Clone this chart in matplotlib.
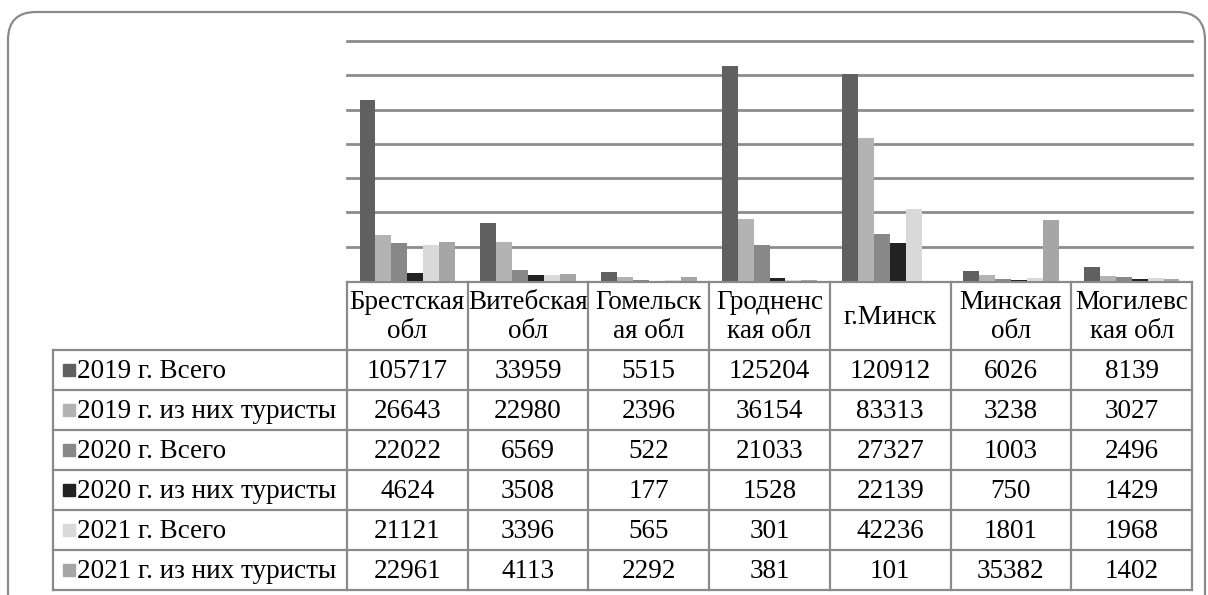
import numpy as np
import matplotlib.pyplot as plt
from matplotlib.patches import FancyBboxPatch, Rectangle

plt.rcParams['font.family'] = 'serif'
plt.rcParams['font.serif'] = ['Liberation Serif', 'Times New Roman', 'DejaVu Serif']

# Data
regions = ['Брестская\nобл', 'Витебская\nобл', 'Гомельск\nая обл', 'Гродненс\nкая обл',
           'г.Минск', 'Минская\nобл', 'Могилевс\nкая обл']
series_names = ['2019 г. Всего', '2019 г. из них туристы', '2020 г. Всего',
                '2020 г. из них туристы', '2021 г. Всего', '2021 г. из них туристы']
total_2019 = [105717, 33959, 5515, 125204, 120912, 6026, 8139]
tourists_2019 = [26643, 22980, 2396, 36154, 83313, 3238, 3027]
total_2020 = [22022, 6569, 522, 21033, 27327, 1003, 2496]
tourists_2020 = [4624, 3508, 177, 1528, 22139, 750, 1429]
total_2021 = [21121, 3396, 565, 301, 42236, 1801, 1968]
tourists_2021 = [22961, 4113, 2292, 381, 101, 35382, 1402]
series = [total_2019, tourists_2019, total_2020, tourists_2020, total_2021, tourists_2021]
colors = ['#606060', '#b3b3b3', '#888888', '#222222', '#d9d9d9', '#a6a6a6']

W, H = 1208, 595
fig = plt.figure(figsize=(W / 100, H / 100), dpi=100)

# background axes in pixel coords for frame and table
bg = fig.add_axes([0, 0, 1, 1])
bg.set_xlim(0, W)
bg.set_ylim(H, 0)
bg.axis('off')

frame = FancyBboxPatch((8, 12), 1197, 610, boxstyle='round,pad=0,rounding_size=28',
                       fc='white', ec='#8a8a8a', lw=1.6)
bg.add_patch(frame)

# plot area
px_left, px_right, px_top, px_base = 347, 1192, 41, 281
ax = fig.add_axes([px_left / W, (H - px_base) / H, (px_right - px_left) / W,
                   (px_base - px_top) / H])
ax.set_facecolor('none')
n = len(regions)
x = np.arange(n)
bw = 0.132
for i, (vals, c) in enumerate(zip(series, colors)):
    ax.bar(x + (i - 2.5) * bw, vals, bw, color=c, zorder=2)
ax.set_xlim(-0.5, n - 0.5)
ax.set_ylim(0, 140000)
ax.set_yticks(np.arange(20000, 140001, 20000))
ax.grid(axis='y', color='#8c8c8c', lw=2, zorder=0)
for gl in ax.get_ygridlines():
    gl.set_clip_on(False)
ax.tick_params(left=False, bottom=False, labelleft=False, labelbottom=False)
for s in ax.spines.values():
    s.set_visible(False)

# table under the chart
col_w = (px_right - px_left) / n
head_top, head_bot = 282, 350
row_h = 40
tab_left = 53
line_kw = dict(color='#8a8a8a', lw=1.6)
fs = 19.5

bg.plot([px_left, px_right], [head_top, head_top], **line_kw)
bottom = head_bot + row_h * len(series)
for j in range(n + 1):
    xx = px_left + j * col_w
    bg.plot([xx, xx], [head_top, bottom], **line_kw)
bg.plot([tab_left, tab_left], [head_bot, bottom], **line_kw)
for r in range(len(series) + 1):
    yy = head_bot + r * row_h
    bg.plot([tab_left, px_right], [yy, yy], **line_kw)

for j, name in enumerate(regions):
    bg.text(px_left + (j + 0.5) * col_w, (head_top + head_bot) / 2 + 1, name,
            ha='center', va='center', fontsize=fs, linespacing=1.2)

for r, (sname, vals, c) in enumerate(zip(series_names, series, colors)):
    yc = head_bot + (r + 0.5) * row_h
    bg.add_patch(Rectangle((63, yc - 6), 12, 12, color=c))
    bg.text(77, yc + 1, sname, ha='left', va='center', fontsize=fs)
    for j, v in enumerate(vals):
        bg.text(px_left + (j + 0.5) * col_w, yc + 1, str(v), ha='center', va='center',
                fontsize=fs)

fig.savefig('out.png', dpi=100)
